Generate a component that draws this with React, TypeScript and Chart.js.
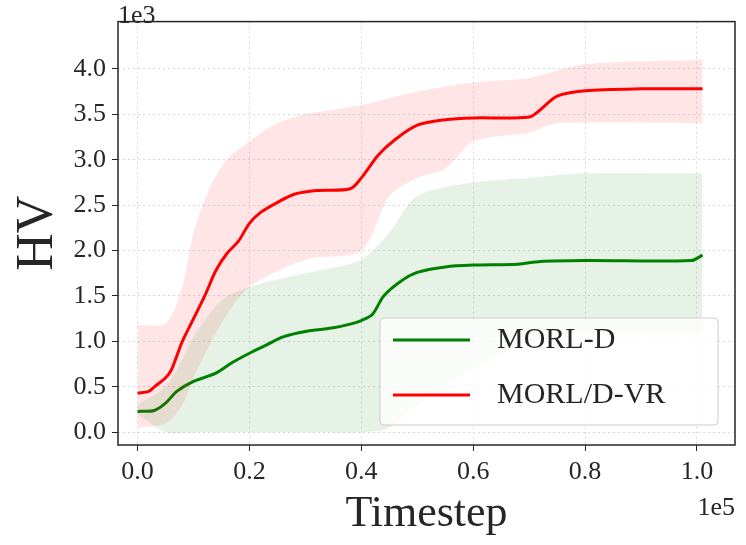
import { useEffect, useRef } from 'react'
import { Chart, registerables } from 'chart.js'

Chart.register(...registerables)

const redMean = [[0,0.43],[0.02,0.45],[0.03,0.5],[0.05,0.6],[0.06,0.68],[0.08,1.0],[0.1,1.25],[0.12,1.5],[0.14,1.78],[0.16,1.97],[0.18,2.1],[0.2,2.3],[0.22,2.42],[0.25,2.53],[0.28,2.62],[0.32,2.66],[0.38,2.68],[0.4,2.8],[0.43,3.05],[0.46,3.22],[0.5,3.38],[0.55,3.44],[0.6,3.46],[0.7,3.47],[0.72,3.55],[0.75,3.7],[0.8,3.76],[0.9,3.78],[1.01,3.78]]
const redUpper = [[0,1.18],[0.05,1.2],[0.08,1.6],[0.1,2.2],[0.13,2.7],[0.16,3.0],[0.2,3.2],[0.25,3.4],[0.3,3.5],[0.4,3.6],[0.5,3.75],[0.6,3.85],[0.7,3.9],[0.8,4.05],[1.01,4.1]]
const redLower = [[0,0.05],[0.05,0.1],[0.08,0.3],[0.1,0.6],[0.15,1.2],[0.2,1.6],[0.3,1.9],[0.4,2.0],[0.45,2.6],[0.5,2.8],[0.55,2.9],[0.6,3.2],[0.7,3.3],[0.75,3.4],[1.01,3.4]]
const greenMean = [[0,0.23],[0.03,0.24],[0.05,0.32],[0.07,0.45],[0.1,0.56],[0.14,0.65],[0.17,0.77],[0.2,0.87],[0.23,0.96],[0.26,1.05],[0.3,1.11],[0.35,1.15],[0.38,1.19],[0.4,1.23],[0.42,1.3],[0.44,1.5],[0.47,1.66],[0.5,1.76],[0.55,1.82],[0.6,1.84],[0.68,1.85],[0.72,1.88],[0.8,1.89],[0.99,1.89],[1.01,1.95]]
const greenUpper = [[0,0.3],[0.05,0.5],[0.08,0.8],[0.1,1.05],[0.15,1.45],[0.2,1.6],[0.3,1.75],[0.4,1.9],[0.45,2.2],[0.5,2.6],[0.6,2.75],[0.7,2.8],[0.8,2.85],[1.01,2.85]]
const greenLower = [[0,0.2],[0.05,0.0],[0.1,0.0],[0.2,0.0],[0.3,0.0],[0.4,0.0],[0.45,0.05],[0.5,0.3],[0.55,0.5],[0.6,0.7],[0.7,1.0],[0.8,1.1],[1.01,1.1]]
const xTicks = [0, 0.2, 0.4, 0.6, 0.8, 1.0]
const yTicks = [0, 0.5, 1, 1.5, 2, 2.5, 3, 3.5, 4]

const pts = (a: number[][]) => a.map(([x, y]) => ({ x, y }))
const FONT = '"Liberation Serif", "DejaVu Serif", serif'

const extras = {
  id: 'extras',
  afterDraw(chart: any) {
    const { ctx, chartArea: a } = chart
    ctx.save()
    ctx.strokeStyle = '#262626'
    ctx.lineWidth = 1.5
    ctx.strokeRect(a.left, a.top, a.right - a.left, a.bottom - a.top)
    ctx.fillStyle = '#262626'
    ctx.font = `26px ${FONT}`
    ctx.textBaseline = 'bottom'
    ctx.textAlign = 'left'
    ctx.fillText('1e3', a.left, a.top + 8)
    ctx.textAlign = 'right'
    ctx.textBaseline = 'top'
    ctx.fillText('1e5', a.right, a.bottom + 50)
    ctx.font = `52px ${FONT}`
    ctx.textAlign = 'center'
    ctx.textBaseline = 'middle'
    ctx.translate(38, (a.top + a.bottom) / 2)
    ctx.rotate(-Math.PI / 2)
    ctx.fillText('HV', 0, 0)
    ctx.restore()
    ctx.save()
    // legend
    const lx = 380, ly = 318, lw = 338, lh = 107
    ctx.fillStyle = 'rgba(255,255,255,0.8)'
    ctx.strokeStyle = '#cccccc'
    ctx.lineWidth = 1
    ctx.beginPath()
    ctx.roundRect(lx, ly, lw, lh, 4)
    ctx.fill()
    ctx.stroke()
    const items = [['MORL-D', '#008000', 340], ['MORL/D-VR', '#ff0000', 395]] as const
    ctx.font = `30px ${FONT}`
    ctx.textAlign = 'left'
    ctx.textBaseline = 'middle'
    for (const [t, c, y] of items) {
      ctx.strokeStyle = c
      ctx.lineWidth = 3
      ctx.beginPath()
      ctx.moveTo(393, y)
      ctx.lineTo(470, y)
      ctx.stroke()
      ctx.fillStyle = '#262626'
      ctx.fillText(t, 497, y)
    }
    ctx.restore()
  },
}

export default function App() {
  const ref = useRef<HTMLCanvasElement>(null)
  useEffect(() => {
    const band = (d: number[][], c: string, fill: any) => ({
      data: pts(d), borderWidth: 0, pointRadius: 0, backgroundColor: c, fill, tension: 0.3,
    })
    const chart = new Chart(ref.current as any, {
      type: 'line',
      data: {
        datasets: [
          band(greenLower, 'rgba(0,128,0,0.1)', false),
          band(greenUpper, 'rgba(0,128,0,0.1)', '-1'),
          band(redLower, 'rgba(255,0,0,0.1)', false),
          band(redUpper, 'rgba(255,0,0,0.1)', '-1'),
          { data: pts(greenMean), borderColor: '#008000', borderWidth: 3, pointRadius: 0, fill: false, tension: 0.3 },
          { data: pts(redMean), borderColor: '#ff0000', borderWidth: 3, pointRadius: 0, fill: false, tension: 0.3 },
        ] as any,
      },
      options: {
        animation: false,
        responsive: true,
        maintainAspectRatio: false,
        layout: { padding: { top: 18, right: 11, left: 0, bottom: 0 } },
        plugins: { legend: { display: false }, tooltip: { enabled: false } },
        scales: {
          x: {
            type: 'linear', min: -0.035, max: 1.068,
            afterBuildTicks: (s: any) => { s.ticks = xTicks.map((v) => ({ value: v })) },
            afterFit: (s: any) => { s.height = 100 },
            ticks: { color: '#262626', font: { family: FONT, size: 26 }, padding: 6, callback: (v: any) => Number(v).toFixed(1) },
            grid: { color: '#d9d9d9', tickColor: '#262626', tickLength: 6 },
            border: { display: false, dash: [2, 3] },
            title: { display: true, text: 'Timestep', color: '#262626', font: { family: FONT, size: 44 }, padding: { top: -4 } },
          },
          y: {
            min: -0.14, max: 4.52,
            afterBuildTicks: (s: any) => { s.ticks = yTicks.map((v) => ({ value: v })) },
            afterFit: (s: any) => { s.width = 118 },
            ticks: { color: '#262626', font: { family: FONT, size: 26 }, padding: 6, callback: (v: any) => Number(v).toFixed(1) },
            grid: { color: '#d9d9d9', tickColor: '#262626', tickLength: 6 },
            border: { display: false, dash: [2, 3] },
          },
        },
      },
      plugins: [extras],
    })
    return () => chart.destroy()
  }, [])
  return (
    <div style={{ position: 'fixed', left: 0, top: 0, width: 746, height: 545, background: '#fff' }}>
      <canvas ref={ref} />
    </div>
  )
}
